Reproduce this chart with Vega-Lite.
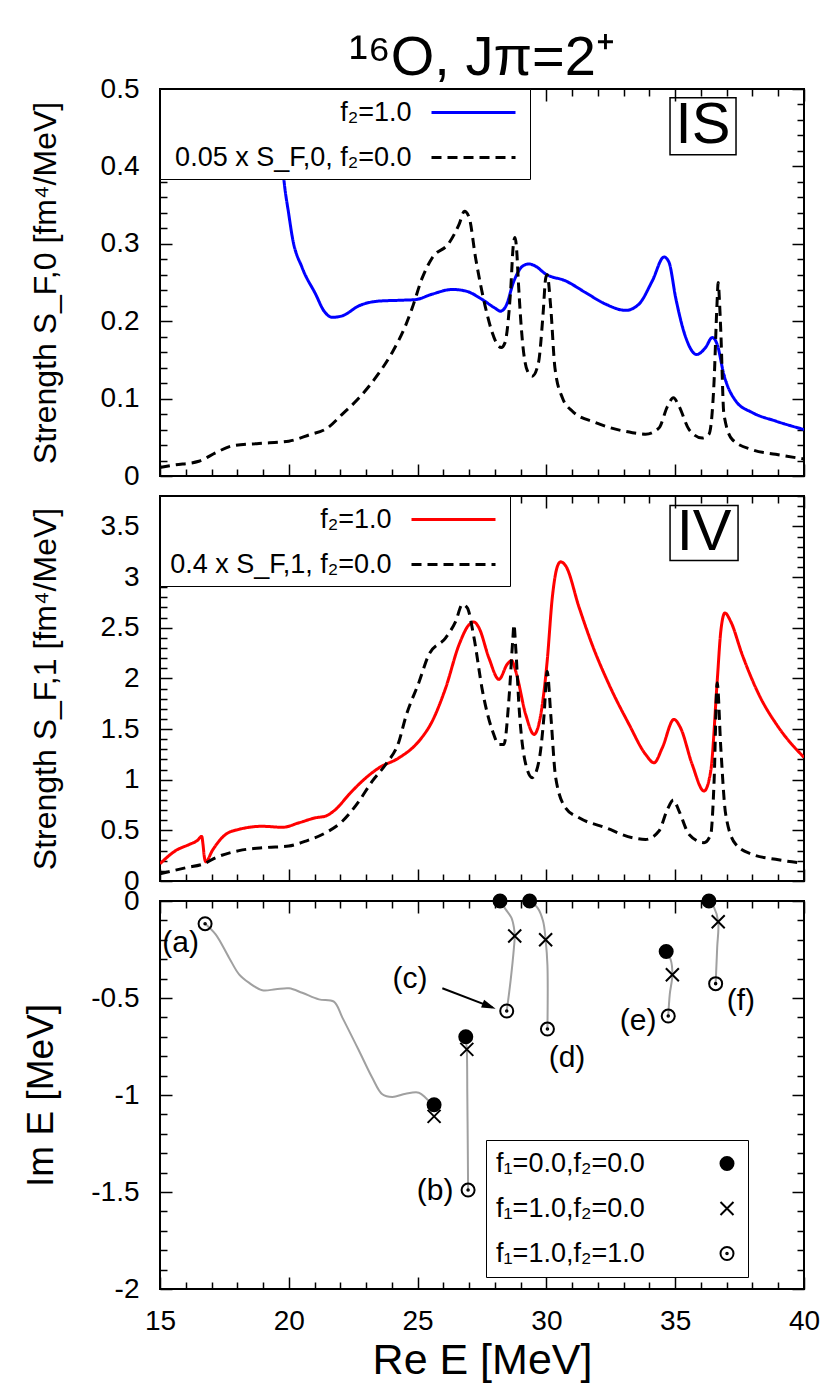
{
  "$schema": "https://vega.github.io/schema/vega-lite/v6.json",
  "padding": {"left": 21, "top": 29, "right": 5, "bottom": 0},
  "background": "white",
  "config": {
    "font": "Liberation Sans",
    "view": {"stroke": "black", "strokeWidth": 2},
    "axis": {"domain": false, "grid": false, "tickColor": "black", "tickWidth": 1.5, "labelColor": "black", "titleColor": "black", "labelFontSize": 28, "titleFontWeight": "normal", "labelFlush": false, "labelOverlap": false, "labelPadding": 33},
    "title": {"fontWeight": "normal", "color": "black"},
    "text": {"color": "black"}
  },
  "resolve": {
    "scale": {"color": "independent", "strokeDash": "independent", "shape": "independent", "fill": "independent", "stroke": "independent"},
    "legend": {"color": "independent", "strokeDash": "independent", "shape": "independent", "fill": "independent", "stroke": "independent"}
  },
  "datasets": {
    "isA": [
      {"E": 19.55, "S": 0.52, "series": "f₂=1.0"}, {"E": 19.65, "S": 0.45, "series": "f₂=1.0"}, {"E": 19.81, "S": 0.383, "series": "f₂=1.0"}, {"E": 20.0, "S": 0.338, "series": "f₂=1.0"}, {"E": 20.14, "S": 0.308, "series": "f₂=1.0"}, {"E": 20.52, "S": 0.269, "series": "f₂=1.0"}, {"E": 21.04, "S": 0.235, "series": "f₂=1.0"}, {"E": 21.37, "S": 0.213, "series": "f₂=1.0"}, {"E": 21.69, "S": 0.205, "series": "f₂=1.0"}, {"E": 22.08, "S": 0.207, "series": "f₂=1.0"}, {"E": 22.73, "S": 0.22, "series": "f₂=1.0"}, {"E": 23.5, "S": 0.226, "series": "f₂=1.0"}, {"E": 24.28, "S": 0.227, "series": "f₂=1.0"}, {"E": 24.93, "S": 0.228, "series": "f₂=1.0"}, {"E": 25.57, "S": 0.235, "series": "f₂=1.0"}, {"E": 26.35, "S": 0.241, "series": "f₂=1.0"}, {"E": 26.87, "S": 0.239, "series": "f₂=1.0"}, {"E": 27.51, "S": 0.228, "series": "f₂=1.0"}, {"E": 28.0, "S": 0.217, "series": "f₂=1.0"}, {"E": 28.22, "S": 0.213, "series": "f₂=1.0"}, {"E": 28.42, "S": 0.219, "series": "f₂=1.0"}, {"E": 28.74, "S": 0.252, "series": "f₂=1.0"}, {"E": 29.07, "S": 0.271, "series": "f₂=1.0"}, {"E": 29.32, "S": 0.274, "series": "f₂=1.0"}, {"E": 29.58, "S": 0.271, "series": "f₂=1.0"}, {"E": 29.97, "S": 0.261, "series": "f₂=1.0"}, {"E": 30.75, "S": 0.252, "series": "f₂=1.0"}, {"E": 31.52, "S": 0.237, "series": "f₂=1.0"}, {"E": 32.3, "S": 0.222, "series": "f₂=1.0"}, {"E": 33.08, "S": 0.214, "series": "f₂=1.0"}, {"E": 33.59, "S": 0.222, "series": "f₂=1.0"}, {"E": 34.11, "S": 0.252, "series": "f₂=1.0"}, {"E": 34.57, "S": 0.283, "series": "f₂=1.0"}, {"E": 34.76, "S": 0.276, "series": "f₂=1.0"}, {"E": 35.02, "S": 0.23, "series": "f₂=1.0"}, {"E": 35.41, "S": 0.179, "series": "f₂=1.0"}, {"E": 35.83, "S": 0.157, "series": "f₂=1.0"}, {"E": 36.18, "S": 0.166, "series": "f₂=1.0"}, {"E": 36.44, "S": 0.179, "series": "f₂=1.0"}, {"E": 36.63, "S": 0.17, "series": "f₂=1.0"}, {"E": 36.89, "S": 0.131, "series": "f₂=1.0"}, {"E": 37.35, "S": 0.097, "series": "f₂=1.0"}, {"E": 37.99, "S": 0.082, "series": "f₂=1.0"}, {"E": 38.9, "S": 0.071, "series": "f₂=1.0"}, {"E": 40.0, "S": 0.06, "series": "f₂=1.0"}
    ],
    "isB": [
      {"E": 15.0, "S": 0.011, "series": "0.05 x S_F,0, f₂=0.0"}, {"E": 15.5, "S": 0.014, "series": "0.05 x S_F,0, f₂=0.0"}, {"E": 16.51, "S": 0.019, "series": "0.05 x S_F,0, f₂=0.0"}, {"E": 17.16, "S": 0.03, "series": "0.05 x S_F,0, f₂=0.0"}, {"E": 17.81, "S": 0.039, "series": "0.05 x S_F,0, f₂=0.0"}, {"E": 18.84, "S": 0.042, "series": "0.05 x S_F,0, f₂=0.0"}, {"E": 20.0, "S": 0.045, "series": "0.05 x S_F,0, f₂=0.0"}, {"E": 20.78, "S": 0.053, "series": "0.05 x S_F,0, f₂=0.0"}, {"E": 21.5, "S": 0.062, "series": "0.05 x S_F,0, f₂=0.0"}, {"E": 22.08, "S": 0.08, "series": "0.05 x S_F,0, f₂=0.0"}, {"E": 22.73, "S": 0.101, "series": "0.05 x S_F,0, f₂=0.0"}, {"E": 23.37, "S": 0.127, "series": "0.05 x S_F,0, f₂=0.0"}, {"E": 24.02, "S": 0.16, "series": "0.05 x S_F,0, f₂=0.0"}, {"E": 24.54, "S": 0.195, "series": "0.05 x S_F,0, f₂=0.0"}, {"E": 24.79, "S": 0.217, "series": "0.05 x S_F,0, f₂=0.0"}, {"E": 25.18, "S": 0.256, "series": "0.05 x S_F,0, f₂=0.0"}, {"E": 25.57, "S": 0.282, "series": "0.05 x S_F,0, f₂=0.0"}, {"E": 26.22, "S": 0.301, "series": "0.05 x S_F,0, f₂=0.0"}, {"E": 26.61, "S": 0.325, "series": "0.05 x S_F,0, f₂=0.0"}, {"E": 26.82, "S": 0.342, "series": "0.05 x S_F,0, f₂=0.0"}, {"E": 27.0, "S": 0.334, "series": "0.05 x S_F,0, f₂=0.0"}, {"E": 27.25, "S": 0.282, "series": "0.05 x S_F,0, f₂=0.0"}, {"E": 27.64, "S": 0.217, "series": "0.05 x S_F,0, f₂=0.0"}, {"E": 27.9, "S": 0.185, "series": "0.05 x S_F,0, f₂=0.0"}, {"E": 28.09, "S": 0.17, "series": "0.05 x S_F,0, f₂=0.0"}, {"E": 28.25, "S": 0.166, "series": "0.05 x S_F,0, f₂=0.0"}, {"E": 28.39, "S": 0.172, "series": "0.05 x S_F,0, f₂=0.0"}, {"E": 28.61, "S": 0.239, "series": "0.05 x S_F,0, f₂=0.0"}, {"E": 28.72, "S": 0.3, "series": "0.05 x S_F,0, f₂=0.0"}, {"E": 28.78, "S": 0.308, "series": "0.05 x S_F,0, f₂=0.0"}, {"E": 28.85, "S": 0.29, "series": "0.05 x S_F,0, f₂=0.0"}, {"E": 28.91, "S": 0.252, "series": "0.05 x S_F,0, f₂=0.0"}, {"E": 29.07, "S": 0.174, "series": "0.05 x S_F,0, f₂=0.0"}, {"E": 29.26, "S": 0.136, "series": "0.05 x S_F,0, f₂=0.0"}, {"E": 29.45, "S": 0.129, "series": "0.05 x S_F,0, f₂=0.0"}, {"E": 29.69, "S": 0.146, "series": "0.05 x S_F,0, f₂=0.0"}, {"E": 29.87, "S": 0.209, "series": "0.05 x S_F,0, f₂=0.0"}, {"E": 29.97, "S": 0.255, "series": "0.05 x S_F,0, f₂=0.0"}, {"E": 30.03, "S": 0.26, "series": "0.05 x S_F,0, f₂=0.0"}, {"E": 30.17, "S": 0.217, "series": "0.05 x S_F,0, f₂=0.0"}, {"E": 30.33, "S": 0.14, "series": "0.05 x S_F,0, f₂=0.0"}, {"E": 30.62, "S": 0.101, "series": "0.05 x S_F,0, f₂=0.0"}, {"E": 31.0, "S": 0.084, "series": "0.05 x S_F,0, f₂=0.0"}, {"E": 31.91, "S": 0.069, "series": "0.05 x S_F,0, f₂=0.0"}, {"E": 33.34, "S": 0.056, "series": "0.05 x S_F,0, f₂=0.0"}, {"E": 33.85, "S": 0.054, "series": "0.05 x S_F,0, f₂=0.0"}, {"E": 34.37, "S": 0.062, "series": "0.05 x S_F,0, f₂=0.0"}, {"E": 34.7, "S": 0.09, "series": "0.05 x S_F,0, f₂=0.0"}, {"E": 34.93, "S": 0.101, "series": "0.05 x S_F,0, f₂=0.0"}, {"E": 35.15, "S": 0.09, "series": "0.05 x S_F,0, f₂=0.0"}, {"E": 35.54, "S": 0.06, "series": "0.05 x S_F,0, f₂=0.0"}, {"E": 36.05, "S": 0.049, "series": "0.05 x S_F,0, f₂=0.0"}, {"E": 36.31, "S": 0.054, "series": "0.05 x S_F,0, f₂=0.0"}, {"E": 36.51, "S": 0.123, "series": "0.05 x S_F,0, f₂=0.0"}, {"E": 36.62, "S": 0.22, "series": "0.05 x S_F,0, f₂=0.0"}, {"E": 36.67, "S": 0.25, "series": "0.05 x S_F,0, f₂=0.0"}, {"E": 36.72, "S": 0.225, "series": "0.05 x S_F,0, f₂=0.0"}, {"E": 36.77, "S": 0.187, "series": "0.05 x S_F,0, f₂=0.0"}, {"E": 36.89, "S": 0.08, "series": "0.05 x S_F,0, f₂=0.0"}, {"E": 37.22, "S": 0.047, "series": "0.05 x S_F,0, f₂=0.0"}, {"E": 37.99, "S": 0.034, "series": "0.05 x S_F,0, f₂=0.0"}, {"E": 38.9, "S": 0.028, "series": "0.05 x S_F,0, f₂=0.0"}, {"E": 40.0, "S": 0.022, "series": "0.05 x S_F,0, f₂=0.0"}
    ],
    "ivA": [
      {"E": 15.0, "S": 0.17, "series": "f₂=1.0"}, {"E": 15.61, "S": 0.3, "series": "f₂=1.0"}, {"E": 16.13, "S": 0.36, "series": "f₂=1.0"}, {"E": 16.45, "S": 0.4, "series": "f₂=1.0"}, {"E": 16.62, "S": 0.44, "series": "f₂=1.0"}, {"E": 16.67, "S": 0.36, "series": "f₂=1.0"}, {"E": 16.72, "S": 0.24, "series": "f₂=1.0"}, {"E": 16.78, "S": 0.19, "series": "f₂=1.0"}, {"E": 17.03, "S": 0.3, "series": "f₂=1.0"}, {"E": 17.55, "S": 0.46, "series": "f₂=1.0"}, {"E": 18.07, "S": 0.51, "series": "f₂=1.0"}, {"E": 18.97, "S": 0.54, "series": "f₂=1.0"}, {"E": 19.75, "S": 0.53, "series": "f₂=1.0"}, {"E": 20.4, "S": 0.575, "series": "f₂=1.0"}, {"E": 21.04, "S": 0.624, "series": "f₂=1.0"}, {"E": 21.43, "S": 0.641, "series": "f₂=1.0"}, {"E": 21.82, "S": 0.707, "series": "f₂=1.0"}, {"E": 22.34, "S": 0.855, "series": "f₂=1.0"}, {"E": 22.85, "S": 0.986, "series": "f₂=1.0"}, {"E": 23.5, "S": 1.117, "series": "f₂=1.0"}, {"E": 24.28, "S": 1.216, "series": "f₂=1.0"}, {"E": 25.05, "S": 1.38, "series": "f₂=1.0"}, {"E": 25.57, "S": 1.578, "series": "f₂=1.0"}, {"E": 26.09, "S": 1.906, "series": "f₂=1.0"}, {"E": 26.61, "S": 2.333, "series": "f₂=1.0"}, {"E": 27.0, "S": 2.53, "series": "f₂=1.0"}, {"E": 27.19, "S": 2.556, "series": "f₂=1.0"}, {"E": 27.38, "S": 2.5, "series": "f₂=1.0"}, {"E": 27.77, "S": 2.2, "series": "f₂=1.0"}, {"E": 28.16, "S": 1.99, "series": "f₂=1.0"}, {"E": 28.48, "S": 2.14, "series": "f₂=1.0"}, {"E": 28.65, "S": 2.175, "series": "f₂=1.0"}, {"E": 28.81, "S": 2.07, "series": "f₂=1.0"}, {"E": 29.2, "S": 1.64, "series": "f₂=1.0"}, {"E": 29.52, "S": 1.447, "series": "f₂=1.0"}, {"E": 29.78, "S": 1.64, "series": "f₂=1.0"}, {"E": 30.03, "S": 2.17, "series": "f₂=1.0"}, {"E": 30.23, "S": 2.8, "series": "f₂=1.0"}, {"E": 30.42, "S": 3.1, "series": "f₂=1.0"}, {"E": 30.55, "S": 3.15, "series": "f₂=1.0"}, {"E": 30.75, "S": 3.11, "series": "f₂=1.0"}, {"E": 31.27, "S": 2.7, "series": "f₂=1.0"}, {"E": 31.78, "S": 2.33, "series": "f₂=1.0"}, {"E": 32.43, "S": 1.94, "series": "f₂=1.0"}, {"E": 33.21, "S": 1.545, "series": "f₂=1.0"}, {"E": 33.85, "S": 1.25, "series": "f₂=1.0"}, {"E": 34.18, "S": 1.167, "series": "f₂=1.0"}, {"E": 34.5, "S": 1.315, "series": "f₂=1.0"}, {"E": 34.95, "S": 1.595, "series": "f₂=1.0"}, {"E": 35.21, "S": 1.51, "series": "f₂=1.0"}, {"E": 35.66, "S": 1.15, "series": "f₂=1.0"}, {"E": 36.12, "S": 0.888, "series": "f₂=1.0"}, {"E": 36.38, "S": 1.085, "series": "f₂=1.0"}, {"E": 36.63, "S": 1.97, "series": "f₂=1.0"}, {"E": 36.77, "S": 2.465, "series": "f₂=1.0"}, {"E": 36.93, "S": 2.646, "series": "f₂=1.0"}, {"E": 37.15, "S": 2.564, "series": "f₂=1.0"}, {"E": 37.6, "S": 2.235, "series": "f₂=1.0"}, {"E": 38.25, "S": 1.84, "series": "f₂=1.0"}, {"E": 39.03, "S": 1.51, "series": "f₂=1.0"}, {"E": 40.0, "S": 1.22, "series": "f₂=1.0"}
    ],
    "ivB": [
      {"E": 15.0, "S": 0.07, "series": "0.4 x S_F,1, f₂=0.0"}, {"E": 16.0, "S": 0.131, "series": "0.4 x S_F,1, f₂=0.0"}, {"E": 16.71, "S": 0.171, "series": "0.4 x S_F,1, f₂=0.0"}, {"E": 17.16, "S": 0.23, "series": "0.4 x S_F,1, f₂=0.0"}, {"E": 18.07, "S": 0.3, "series": "0.4 x S_F,1, f₂=0.0"}, {"E": 19.1, "S": 0.33, "series": "0.4 x S_F,1, f₂=0.0"}, {"E": 20.0, "S": 0.345, "series": "0.4 x S_F,1, f₂=0.0"}, {"E": 20.66, "S": 0.394, "series": "0.4 x S_F,1, f₂=0.0"}, {"E": 21.43, "S": 0.476, "series": "0.4 x S_F,1, f₂=0.0"}, {"E": 22.08, "S": 0.59, "series": "0.4 x S_F,1, f₂=0.0"}, {"E": 22.73, "S": 0.79, "series": "0.4 x S_F,1, f₂=0.0"}, {"E": 23.24, "S": 0.986, "series": "0.4 x S_F,1, f₂=0.0"}, {"E": 23.76, "S": 1.15, "series": "0.4 x S_F,1, f₂=0.0"}, {"E": 24.28, "S": 1.38, "series": "0.4 x S_F,1, f₂=0.0"}, {"E": 24.54, "S": 1.62, "series": "0.4 x S_F,1, f₂=0.0"}, {"E": 25.05, "S": 1.96, "series": "0.4 x S_F,1, f₂=0.0"}, {"E": 25.44, "S": 2.235, "series": "0.4 x S_F,1, f₂=0.0"}, {"E": 26.09, "S": 2.4, "series": "0.4 x S_F,1, f₂=0.0"}, {"E": 26.48, "S": 2.564, "series": "0.4 x S_F,1, f₂=0.0"}, {"E": 26.74, "S": 2.73, "series": "0.4 x S_F,1, f₂=0.0"}, {"E": 26.93, "S": 2.695, "series": "0.4 x S_F,1, f₂=0.0"}, {"E": 27.19, "S": 2.4, "series": "0.4 x S_F,1, f₂=0.0"}, {"E": 27.52, "S": 1.874, "series": "0.4 x S_F,1, f₂=0.0"}, {"E": 27.91, "S": 1.48, "series": "0.4 x S_F,1, f₂=0.0"}, {"E": 28.16, "S": 1.348, "series": "0.4 x S_F,1, f₂=0.0"}, {"E": 28.35, "S": 1.348, "series": "0.4 x S_F,1, f₂=0.0"}, {"E": 28.55, "S": 1.81, "series": "0.4 x S_F,1, f₂=0.0"}, {"E": 28.7, "S": 2.4, "series": "0.4 x S_F,1, f₂=0.0"}, {"E": 28.74, "S": 2.53, "series": "0.4 x S_F,1, f₂=0.0"}, {"E": 28.81, "S": 2.3, "series": "0.4 x S_F,1, f₂=0.0"}, {"E": 28.94, "S": 1.71, "series": "0.4 x S_F,1, f₂=0.0"}, {"E": 29.2, "S": 1.15, "series": "0.4 x S_F,1, f₂=0.0"}, {"E": 29.45, "S": 1.02, "series": "0.4 x S_F,1, f₂=0.0"}, {"E": 29.71, "S": 1.183, "series": "0.4 x S_F,1, f₂=0.0"}, {"E": 29.91, "S": 1.64, "series": "0.4 x S_F,1, f₂=0.0"}, {"E": 30.03, "S": 2.07, "series": "0.4 x S_F,1, f₂=0.0"}, {"E": 30.17, "S": 1.64, "series": "0.4 x S_F,1, f₂=0.0"}, {"E": 30.36, "S": 1.02, "series": "0.4 x S_F,1, f₂=0.0"}, {"E": 30.75, "S": 0.72, "series": "0.4 x S_F,1, f₂=0.0"}, {"E": 31.27, "S": 0.624, "series": "0.4 x S_F,1, f₂=0.0"}, {"E": 32.3, "S": 0.526, "series": "0.4 x S_F,1, f₂=0.0"}, {"E": 33.34, "S": 0.427, "series": "0.4 x S_F,1, f₂=0.0"}, {"E": 33.85, "S": 0.41, "series": "0.4 x S_F,1, f₂=0.0"}, {"E": 34.37, "S": 0.493, "series": "0.4 x S_F,1, f₂=0.0"}, {"E": 34.7, "S": 0.707, "series": "0.4 x S_F,1, f₂=0.0"}, {"E": 34.93, "S": 0.8, "series": "0.4 x S_F,1, f₂=0.0"}, {"E": 35.15, "S": 0.69, "series": "0.4 x S_F,1, f₂=0.0"}, {"E": 35.54, "S": 0.46, "series": "0.4 x S_F,1, f₂=0.0"}, {"E": 36.12, "S": 0.378, "series": "0.4 x S_F,1, f₂=0.0"}, {"E": 36.38, "S": 0.46, "series": "0.4 x S_F,1, f₂=0.0"}, {"E": 36.51, "S": 0.986, "series": "0.4 x S_F,1, f₂=0.0"}, {"E": 36.63, "S": 1.956, "series": "0.4 x S_F,1, f₂=0.0"}, {"E": 36.77, "S": 1.315, "series": "0.4 x S_F,1, f₂=0.0"}, {"E": 36.96, "S": 0.658, "series": "0.4 x S_F,1, f₂=0.0"}, {"E": 37.35, "S": 0.362, "series": "0.4 x S_F,1, f₂=0.0"}, {"E": 37.99, "S": 0.263, "series": "0.4 x S_F,1, f₂=0.0"}, {"E": 38.9, "S": 0.214, "series": "0.4 x S_F,1, f₂=0.0"}, {"E": 40.0, "S": 0.175, "series": "0.4 x S_F,1, f₂=0.0"}
    ],
    "poles": [
      {"re": 28.2, "im": 0.0, "set": "f₁=0.0,f₂=0.0"}, {"re": 29.35, "im": 0.0, "set": "f₁=0.0,f₂=0.0"}, {"re": 36.31, "im": 0.0, "set": "f₁=0.0,f₂=0.0"}, {"re": 34.65, "im": -0.26, "set": "f₁=0.0,f₂=0.0"}, {"re": 26.87, "im": -0.7, "set": "f₁=0.0,f₂=0.0"}, {"re": 25.64, "im": -1.05, "set": "f₁=0.0,f₂=0.0"},
      {"re": 28.77, "im": -0.18, "set": "f₁=1.0,f₂=0.0"}, {"re": 29.97, "im": -0.2, "set": "f₁=1.0,f₂=0.0"}, {"re": 36.67, "im": -0.107, "set": "f₁=1.0,f₂=0.0"}, {"re": 34.89, "im": -0.38, "set": "f₁=1.0,f₂=0.0"}, {"re": 26.91, "im": -0.765, "set": "f₁=1.0,f₂=0.0"}, {"re": 25.64, "im": -1.11, "set": "f₁=1.0,f₂=0.0"},
      {"re": 16.75, "im": -0.117, "set": "f₁=1.0,f₂=1.0"}, {"re": 26.96, "im": -1.49, "set": "f₁=1.0,f₂=1.0"}, {"re": 28.46, "im": -0.567, "set": "f₁=1.0,f₂=1.0"}, {"re": 30.04, "im": -0.66, "set": "f₁=1.0,f₂=1.0"}, {"re": 34.73, "im": -0.593, "set": "f₁=1.0,f₂=1.0"}, {"re": 36.57, "im": -0.426, "set": "f₁=1.0,f₂=1.0"}
    ],
    "traj": [
      {"path": "a", "ord": 1, "re": 25.64, "im": -1.08}, {"path": "a", "ord": 2, "re": 25.55, "im": -1.05}, {"path": "a", "ord": 3, "re": 25.31, "im": -1.014}, {"path": "a", "ord": 4, "re": 25.05, "im": -0.988}, {"path": "a", "ord": 5, "re": 24.54, "im": -0.993}, {"path": "a", "ord": 6, "re": 24.02, "im": -1.01}, {"path": "a", "ord": 7, "re": 23.63, "im": -0.996}, {"path": "a", "ord": 8, "re": 23.24, "im": -0.911}, {"path": "a", "ord": 9, "re": 22.73, "im": -0.773}, {"path": "a", "ord": 10, "re": 22.08, "im": -0.601}, {"path": "a", "ord": 11, "re": 21.75, "im": -0.519}, {"path": "a", "ord": 12, "re": 21.17, "im": -0.507}, {"path": "a", "ord": 13, "re": 20.52, "im": -0.473}, {"path": "a", "ord": 14, "re": 20.01, "im": -0.45}, {"path": "a", "ord": 15, "re": 19.49, "im": -0.455}, {"path": "a", "ord": 16, "re": 18.97, "im": -0.46}, {"path": "a", "ord": 17, "re": 18.45, "im": -0.421}, {"path": "a", "ord": 18, "re": 18.07, "im": -0.378}, {"path": "a", "ord": 19, "re": 17.68, "im": -0.292}, {"path": "a", "ord": 20, "re": 17.16, "im": -0.172}, {"path": "a", "ord": 21, "re": 16.75, "im": -0.117},
      {"path": "b", "ord": 1, "re": 26.87, "im": -0.7}, {"path": "b", "ord": 2, "re": 26.91, "im": -0.765}, {"path": "b", "ord": 3, "re": 26.93, "im": -1.0}, {"path": "b", "ord": 4, "re": 26.95, "im": -1.3}, {"path": "b", "ord": 5, "re": 26.96, "im": -1.49},
      {"path": "c", "ord": 1, "re": 28.2, "im": 0.0}, {"path": "c", "ord": 2, "re": 28.42, "im": -0.043}, {"path": "c", "ord": 3, "re": 28.64, "im": -0.086}, {"path": "c", "ord": 4, "re": 28.74, "im": -0.137}, {"path": "c", "ord": 5, "re": 28.77, "im": -0.18}, {"path": "c", "ord": 6, "re": 28.74, "im": -0.24}, {"path": "c", "ord": 7, "re": 28.61, "im": -0.41}, {"path": "c", "ord": 8, "re": 28.46, "im": -0.567},
      {"path": "d", "ord": 1, "re": 29.35, "im": 0.0}, {"path": "d", "ord": 2, "re": 29.65, "im": -0.034}, {"path": "d", "ord": 3, "re": 29.87, "im": -0.103}, {"path": "d", "ord": 4, "re": 29.97, "im": -0.2}, {"path": "d", "ord": 5, "re": 30.04, "im": -0.33}, {"path": "d", "ord": 6, "re": 30.04, "im": -0.66},
      {"path": "e", "ord": 1, "re": 34.65, "im": -0.26}, {"path": "e", "ord": 2, "re": 34.82, "im": -0.3}, {"path": "e", "ord": 3, "re": 34.89, "im": -0.38}, {"path": "e", "ord": 4, "re": 34.79, "im": -0.48}, {"path": "e", "ord": 5, "re": 34.73, "im": -0.593},
      {"path": "f", "ord": 1, "re": 36.31, "im": 0.0}, {"path": "f", "ord": 2, "re": 36.51, "im": -0.034}, {"path": "f", "ord": 3, "re": 36.67, "im": -0.107}, {"path": "f", "ord": 4, "re": 36.63, "im": -0.24}, {"path": "f", "ord": 5, "re": 36.57, "im": -0.426}
    ],
    "labs": [
      {"re": 15.8, "im": -0.215, "text": "(a)"}, {"re": 25.68, "im": -1.495, "text": "(b)"}, {"re": 24.7, "im": -0.402, "text": "(c)"}, {"re": 30.8, "im": -0.809, "text": "(d)"}, {"re": 33.56, "im": -0.619, "text": "(e)"}, {"re": 37.55, "im": -0.515, "text": "(f)"}
    ]
  },
  "spacing": 20,
  "bounds": "flush",
  "vconcat": [
    {
      "width": 644, "height": 387,
      "title": {"text": "¹⁶O, Jπ=2⁺", "fontSize": 56, "frame": "group", "anchor": "middle", "offset": -12},
      "resolve": {"axis": {"x": "independent", "y": "independent"}},
      "layer": [
        {
          "data": {"name": "isA"},
          "mark": {"type": "line", "strokeWidth": 3, "clip": true, "interpolate": "monotone"},
          "encoding": {
            "x": {"field": "E", "type": "quantitative", "scale": {"domain": [15, 40], "nice": false, "zero": false},
                  "axis": {"orient": "bottom", "values": [15,16,17,18,19,20,21,22,23,24,25,26,27,28,29,30,31,32,33,34,35,36,37,38,39,40], "labels": false, "title": null, "tickSize": {"condition": {"test": "datum.value % 5 === 0", "value": -12}, "value": -7}}},
            "y": {"field": "S", "type": "quantitative", "scale": {"domain": [0, 0.5], "nice": false, "zero": false},
                  "axis": {"orient": "left", "values": [0,0.02,0.04,0.06,0.08,0.1,0.12,0.14,0.16,0.18,0.2,0.22,0.24,0.26,0.28,0.3,0.32,0.34,0.36,0.38,0.4,0.42,0.44,0.46,0.48,0.5],
                           "labelExpr": "abs(datum.value*10-round(datum.value*10))<0.001 ? '' + datum.value : ''",
                           "tickSize": {"condition": {"test": "abs(datum.value*10-round(datum.value*10))<0.001", "value": -12}, "value": -7},
                           "title": "Strength S_F,0 [fm⁴/MeV]", "titleFontSize": 32, "titlePadding": 38}},
            "color": {"field": "series", "type": "nominal", "scale": {"domain": ["f₂=1.0", "0.05 x S_F,0, f₂=0.0"], "range": ["#0000ff", "#000000"]},
                      "legend": {"orient": "none", "legendX": 0, "legendY": 0, "title": null, "labelFontSize": 27, "labelAlign": "right", "labelOffset": -77.5, "symbolOffset": 290, "symbolType": "M-3,0H3", "symbolSize": 784, "symbolStrokeWidth": 3, "padding": 8, "rowPadding": 16, "strokeColor": "black", "fillColor": "white", "labelLimit": 600, "labelColor": "black"}},
            "strokeDash": {"field": "series", "type": "nominal", "scale": {"domain": ["f₂=1.0", "0.05 x S_F,0, f₂=0.0"], "range": [[1, 0], [10, 6]]},
                      "legend": {"orient": "none", "legendX": 0, "legendY": 0, "title": null, "labelFontSize": 27, "labelAlign": "right", "labelOffset": -77.5, "symbolOffset": 290, "symbolType": "M-3,0H3", "symbolSize": 784, "symbolStrokeWidth": 3, "padding": 8, "rowPadding": 16, "strokeColor": "black", "fillColor": "white", "labelLimit": 600, "labelColor": "black"}}
          }
        },
        {
          "data": {"name": "isB"},
          "mark": {"type": "line", "strokeWidth": 3, "clip": true, "interpolate": "monotone"},
          "encoding": {
            "x": {"field": "E", "type": "quantitative", "scale": {"domain": [15, 40], "nice": false, "zero": false},
                  "axis": {"orient": "top", "values": [15,16,17,18,19,20,21,22,23,24,25,26,27,28,29,30,31,32,33,34,35,36,37,38,39,40], "labels": false, "title": null, "tickSize": {"condition": {"test": "datum.value % 5 === 0", "value": -12}, "value": -7}}},
            "y": {"field": "S", "type": "quantitative", "scale": {"domain": [0, 0.5], "nice": false, "zero": false},
                  "axis": {"orient": "right", "values": [0,0.02,0.04,0.06,0.08,0.1,0.12,0.14,0.16,0.18,0.2,0.22,0.24,0.26,0.28,0.3,0.32,0.34,0.36,0.38,0.4,0.42,0.44,0.46,0.48,0.5], "labels": false, "title": null,
                           "tickSize": {"condition": {"test": "abs(datum.value*10-round(datum.value*10))<0.001", "value": -12}, "value": -7}}},
            "color": {"field": "series", "type": "nominal", "scale": {"domain": ["f₂=1.0", "0.05 x S_F,0, f₂=0.0"], "range": ["#0000ff", "#000000"]},
                      "legend": {"orient": "none", "legendX": 0, "legendY": 0, "title": null, "labelFontSize": 27, "labelAlign": "right", "labelOffset": -77.5, "symbolOffset": 290, "symbolType": "M-3,0H3", "symbolSize": 784, "symbolStrokeWidth": 3, "padding": 8, "rowPadding": 16, "strokeColor": "black", "fillColor": "white", "labelLimit": 600, "labelColor": "black"}},
            "strokeDash": {"field": "series", "type": "nominal", "scale": {"domain": ["f₂=1.0", "0.05 x S_F,0, f₂=0.0"], "range": [[1, 0], [10, 6]]},
                      "legend": {"orient": "none", "legendX": 0, "legendY": 0, "title": null, "labelFontSize": 27, "labelAlign": "right", "labelOffset": -77.5, "symbolOffset": 290, "symbolType": "M-3,0H3", "symbolSize": 784, "symbolStrokeWidth": 3, "padding": 8, "rowPadding": 16, "strokeColor": "black", "fillColor": "white", "labelLimit": 600, "labelColor": "black"}}
          }
        },
        {
          "data": {"values": [{}]},
          "mark": {"type": "point", "shape": "M-1,-0.864H1V0.864H-1Z", "size": 4356, "filled": false, "stroke": "black", "strokeWidth": 1.5, "opacity": 1},
          "encoding": {
            "x": {"datum": 36.08, "type": "quantitative", "axis": null},
            "y": {"datum": 0.452, "type": "quantitative", "axis": null}
          }
        },
        {
          "data": {"values": [{}]},
          "mark": {"type": "text", "text": "IS", "fontSize": 58, "baseline": "middle", "align": "center", "color": "black"},
          "encoding": {
            "x": {"datum": 36.08, "type": "quantitative", "axis": null},
            "y": {"datum": 0.452, "type": "quantitative", "axis": null}
          }
        }
      ]
    },
    {
      "width": 644, "height": 385,
      "resolve": {"axis": {"x": "independent", "y": "independent"}},
      "layer": [
        {
          "data": {"name": "ivA"},
          "mark": {"type": "line", "strokeWidth": 3, "clip": true, "interpolate": "monotone"},
          "encoding": {
            "x": {"field": "E", "type": "quantitative", "scale": {"domain": [15, 40], "nice": false, "zero": false},
                  "axis": {"orient": "bottom", "values": [15,16,17,18,19,20,21,22,23,24,25,26,27,28,29,30,31,32,33,34,35,36,37,38,39,40], "labels": false, "title": null, "tickSize": {"condition": {"test": "datum.value % 5 === 0", "value": -12}, "value": -7}}},
            "y": {"field": "S", "type": "quantitative", "scale": {"domain": [0, 3.8], "nice": false, "zero": false},
                  "axis": {"orient": "left", "values": [0,0.1,0.2,0.3,0.4,0.5,0.6,0.7,0.8,0.9,1,1.1,1.2,1.3,1.4,1.5,1.6,1.7,1.8,1.9,2,2.1,2.2,2.3,2.4,2.5,2.6,2.7,2.8,2.9,3,3.1,3.2,3.3,3.4,3.5,3.6,3.7,3.8],
                           "labelExpr": "abs(datum.value*2-round(datum.value*2))<0.001 ? '' + datum.value : ''",
                           "tickSize": {"condition": {"test": "abs(datum.value*2-round(datum.value*2))<0.001", "value": -12}, "value": -7},
                           "title": "Strength S_F,1 [fm⁴/MeV]", "titleFontSize": 32, "titlePadding": 38}},
            "color": {"field": "series", "type": "nominal", "scale": {"domain": ["f₂=1.0", "0.4 x S_F,1, f₂=0.0"], "range": ["#ff0000", "#000000"]},
                      "legend": {"orient": "none", "legendX": 0, "legendY": 0, "title": null, "labelFontSize": 27, "labelAlign": "right", "labelOffset": -77.5, "symbolOffset": 270, "symbolType": "M-3,0H3", "symbolSize": 784, "symbolStrokeWidth": 3, "padding": 8, "rowPadding": 16, "strokeColor": "black", "fillColor": "white", "labelLimit": 600, "labelColor": "black"}},
            "strokeDash": {"field": "series", "type": "nominal", "scale": {"domain": ["f₂=1.0", "0.4 x S_F,1, f₂=0.0"], "range": [[1, 0], [10, 6]]},
                      "legend": {"orient": "none", "legendX": 0, "legendY": 0, "title": null, "labelFontSize": 27, "labelAlign": "right", "labelOffset": -77.5, "symbolOffset": 270, "symbolType": "M-3,0H3", "symbolSize": 784, "symbolStrokeWidth": 3, "padding": 8, "rowPadding": 16, "strokeColor": "black", "fillColor": "white", "labelLimit": 600, "labelColor": "black"}}
          }
        },
        {
          "data": {"name": "ivB"},
          "mark": {"type": "line", "strokeWidth": 3, "clip": true, "interpolate": "monotone"},
          "encoding": {
            "x": {"field": "E", "type": "quantitative", "scale": {"domain": [15, 40], "nice": false, "zero": false},
                  "axis": {"orient": "top", "values": [15,16,17,18,19,20,21,22,23,24,25,26,27,28,29,30,31,32,33,34,35,36,37,38,39,40], "labels": false, "title": null, "tickSize": {"condition": {"test": "datum.value % 5 === 0", "value": -12}, "value": -7}}},
            "y": {"field": "S", "type": "quantitative", "scale": {"domain": [0, 3.8], "nice": false, "zero": false},
                  "axis": {"orient": "right", "values": [0,0.1,0.2,0.3,0.4,0.5,0.6,0.7,0.8,0.9,1,1.1,1.2,1.3,1.4,1.5,1.6,1.7,1.8,1.9,2,2.1,2.2,2.3,2.4,2.5,2.6,2.7,2.8,2.9,3,3.1,3.2,3.3,3.4,3.5,3.6,3.7,3.8], "labels": false, "title": null,
                           "tickSize": {"condition": {"test": "abs(datum.value*2-round(datum.value*2))<0.001", "value": -12}, "value": -7}}},
            "color": {"field": "series", "type": "nominal", "scale": {"domain": ["f₂=1.0", "0.4 x S_F,1, f₂=0.0"], "range": ["#ff0000", "#000000"]},
                      "legend": {"orient": "none", "legendX": 0, "legendY": 0, "title": null, "labelFontSize": 27, "labelAlign": "right", "labelOffset": -77.5, "symbolOffset": 270, "symbolType": "M-3,0H3", "symbolSize": 784, "symbolStrokeWidth": 3, "padding": 8, "rowPadding": 16, "strokeColor": "black", "fillColor": "white", "labelLimit": 600, "labelColor": "black"}},
            "strokeDash": {"field": "series", "type": "nominal", "scale": {"domain": ["f₂=1.0", "0.4 x S_F,1, f₂=0.0"], "range": [[1, 0], [10, 6]]},
                      "legend": {"orient": "none", "legendX": 0, "legendY": 0, "title": null, "labelFontSize": 27, "labelAlign": "right", "labelOffset": -77.5, "symbolOffset": 270, "symbolType": "M-3,0H3", "symbolSize": 784, "symbolStrokeWidth": 3, "padding": 8, "rowPadding": 16, "strokeColor": "black", "fillColor": "white", "labelLimit": 600, "labelColor": "black"}}
          }
        },
        {
          "data": {"values": [{}]},
          "mark": {"type": "point", "shape": "M-1,-0.81H1V0.81H-1Z", "size": 4624, "filled": false, "stroke": "black", "strokeWidth": 1.5, "opacity": 1},
          "encoding": {
            "x": {"datum": 36.12, "type": "quantitative", "axis": null},
            "y": {"datum": 3.435, "type": "quantitative", "axis": null}
          }
        },
        {
          "data": {"values": [{}]},
          "mark": {"type": "text", "text": "IV", "fontSize": 58, "baseline": "middle", "align": "center", "color": "black"},
          "encoding": {
            "x": {"datum": 36.12, "type": "quantitative", "axis": null},
            "y": {"datum": 3.435, "type": "quantitative", "axis": null}
          }
        }
      ]
    },
    {
      "width": 644, "height": 388,
      "resolve": {"axis": {"x": "independent", "y": "independent"}},
      "layer": [
        {
          "data": {"name": "traj"},
          "mark": {"type": "line", "color": "#a0a0a0", "strokeWidth": 2, "interpolate": "catmull-rom"},
          "encoding": {
            "x": {"field": "re", "type": "quantitative", "scale": {"domain": [15, 40], "nice": false, "zero": false},
                  "axis": {"orient": "top", "values": [15,16,17,18,19,20,21,22,23,24,25,26,27,28,29,30,31,32,33,34,35,36,37,38,39,40], "labels": false, "title": null, "tickSize": {"condition": {"test": "datum.value % 5 === 0", "value": -12}, "value": -7}}},
            "y": {"field": "im", "type": "quantitative", "scale": {"domain": [-2, 0], "nice": false, "zero": false},
                  "axis": {"orient": "right", "values": [-2,-1.9,-1.8,-1.7,-1.6,-1.5,-1.4,-1.3,-1.2,-1.1,-1,-0.9,-0.8,-0.7,-0.6,-0.5,-0.4,-0.3,-0.2,-0.1,0], "labels": false, "title": null,
                           "tickSize": {"condition": {"test": "abs(datum.value*2-round(datum.value*2))<0.001", "value": -12}, "value": -7}}},
            "detail": {"field": "path", "type": "nominal"},
            "order": {"field": "ord", "type": "quantitative"}
          }
        },
        {
          "data": {"name": "poles"},
          "mark": {"type": "point", "filled": false, "strokeWidth": 2, "size": 169, "opacity": 1},
          "encoding": {
            "x": {"field": "re", "type": "quantitative", "scale": {"domain": [15, 40], "nice": false, "zero": false},
                  "axis": {"orient": "bottom", "values": [15,16,17,18,19,20,21,22,23,24,25,26,27,28,29,30,31,32,33,34,35,36,37,38,39,40],
                           "labelExpr": "datum.value % 5 === 0 ? '' + datum.value : ''", "labelPadding": 30,
                           "tickSize": {"condition": {"test": "datum.value % 5 === 0", "value": -12}, "value": -7},
                           "title": "Re E [MeV]", "titleFontSize": 43, "titlePadding": -1}},
            "y": {"field": "im", "type": "quantitative", "scale": {"domain": [-2, 0], "nice": false, "zero": false},
                  "axis": {"orient": "left", "values": [-2,-1.9,-1.8,-1.7,-1.6,-1.5,-1.4,-1.3,-1.2,-1.1,-1,-0.9,-0.8,-0.7,-0.6,-0.5,-0.4,-0.3,-0.2,-0.1,0],
                           "labelExpr": "abs(datum.value*2-round(datum.value*2))<0.001 ? '' + datum.value : ''",
                           "tickSize": {"condition": {"test": "abs(datum.value*2-round(datum.value*2))<0.001", "value": -12}, "value": -7},
                           "title": "Im E [MeV]", "titleFontSize": 37, "titlePadding": 30}},
            "shape": {"field": "set", "type": "nominal",
                      "scale": {"domain": ["f₁=0.0,f₂=0.0", "f₁=1.0,f₂=0.0", "f₁=1.0,f₂=1.0"], "range": ["circle", "M-1,-1L1,1M-1,1L1,-1", "M1,0A1,1,0,1,1,-1,0A1,1,0,1,1,1,0M0.12,0A0.12,0.12,0,1,1,-0.12,0A0.12,0.12,0,1,1,0.12,0"]},
                      "legend": {"orient": "none", "legendX": 326, "legendY": 239, "title": null, "labelFontSize": 27, "labelAlign": "left", "labelOffset": -244.5, "symbolOffset": 217.5, "symbolSize": 169, "symbolStrokeWidth": 2, "padding": 10, "rowPadding": 17, "strokeColor": "black", "fillColor": "white", "labelLimit": 600, "labelColor": "black", "labelExpr": "datum.label + '                 '"}},
            "fill": {"field": "set", "type": "nominal",
                     "scale": {"domain": ["f₁=0.0,f₂=0.0", "f₁=1.0,f₂=0.0", "f₁=1.0,f₂=1.0"], "range": ["black", "transparent", "transparent"]},
                     "legend": {"orient": "none", "legendX": 326, "legendY": 239, "title": null, "labelFontSize": 27, "labelAlign": "left", "labelOffset": -244.5, "symbolOffset": 217.5, "symbolSize": 169, "symbolStrokeWidth": 2, "padding": 10, "rowPadding": 17, "strokeColor": "black", "fillColor": "white", "labelLimit": 600, "labelColor": "black", "labelExpr": "datum.label + '                 '"}},
            "stroke": {"field": "set", "type": "nominal",
                     "scale": {"domain": ["f₁=0.0,f₂=0.0", "f₁=1.0,f₂=0.0", "f₁=1.0,f₂=1.0"], "range": ["black", "black", "black"]},
                     "legend": {"orient": "none", "legendX": 326, "legendY": 239, "title": null, "labelFontSize": 27, "labelAlign": "left", "labelOffset": -244.5, "symbolOffset": 217.5, "symbolSize": 169, "symbolStrokeWidth": 2, "padding": 10, "rowPadding": 17, "strokeColor": "black", "fillColor": "white", "labelLimit": 600, "labelColor": "black", "labelExpr": "datum.label + '                 '"}}
          }
        },
        {
          "data": {"name": "labs"},
          "mark": {"type": "text", "fontSize": 30, "baseline": "middle", "align": "center", "color": "black"},
          "encoding": {
            "x": {"field": "re", "type": "quantitative", "axis": null},
            "y": {"field": "im", "type": "quantitative", "axis": null},
            "text": {"field": "text"}
          }
        },
        {
          "data": {"values": [{}]},
          "mark": {"type": "rule", "color": "black", "strokeWidth": 2},
          "encoding": {
            "x": {"datum": 25.96, "type": "quantitative", "axis": null},
            "y": {"datum": -0.45, "type": "quantitative", "axis": null},
            "x2": {"datum": 27.9},
            "y2": {"datum": -0.548}
          }
        },
        {
          "data": {"values": [{}]},
          "mark": {"type": "point", "shape": "M0,0L-2,-0.6L-2,0.6Z", "size": 196, "filled": true, "color": "black", "angle": 21, "opacity": 1},
          "encoding": {
            "x": {"datum": 28.03, "type": "quantitative", "axis": null},
            "y": {"datum": -0.555, "type": "quantitative", "axis": null}
          }
        }
      ]
    }
  ]
}
